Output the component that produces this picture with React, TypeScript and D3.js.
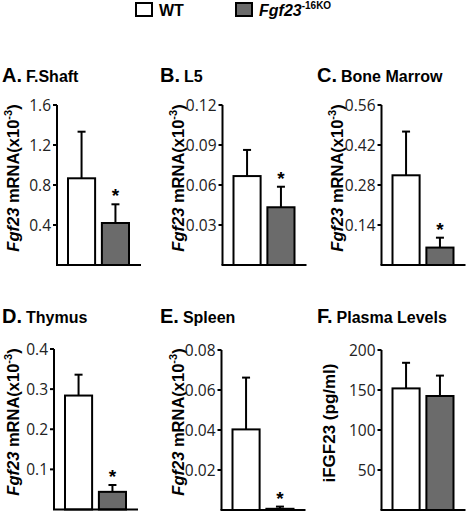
import React from "react";
import * as d3 from "d3";

const groups = ["WT", "KO"];
const panelLetters = ["A.", "B.", "C.", "D.", "E.", "F."];
const panelTitles = ["F.Shaft", "L5", "Bone Marrow", "Thymus", "Spleen", "Plasma Levels"];
const yMax = [1.6, 0.12, 0.56, 0.4, 0.08, 200];
const yTicks = [
  [0.4, 0.8, 1.2, 1.6],
  [0.03, 0.06, 0.09, 0.12],
  [0.14, 0.28, 0.42, 0.56],
  [0.1, 0.2, 0.3, 0.4],
  [0.02, 0.04, 0.06, 0.08],
  [50, 100, 150, 200],
];
const tickLabels = [
  ["0.4", "0.8", "1.2", "1.6"],
  ["0.03", "0.06", "0.09", "0.12"],
  ["0.14", "0.28", "0.42", "0.56"],
  ["0.1", "0.2", "0.3", "0.4"],
  ["0.02", "0.04", "0.06", "0.08"],
  ["50", "100", "150", "200"],
];
const wtMean = [0.867, 0.0667, 0.314, 0.284, 0.0403, 152];
const wtErr = [1.333, 0.0863, 0.467, 0.336, 0.0662, 184];
const koMean = [0.42, 0.0433, 0.061, 0.044, 0.0006, 142.5];
const koErr = [0.607, 0.0587, 0.0956, 0.061, 0.0017, 168];
const significant = [true, true, true, true, true, false];
const isMRNA = [true, true, true, true, true, false];

// layout (positions only)
const layout = [
  { ax: 57, top: 105, base: 265, tx: 2, ty: 82, lx: 19, ly: 178 },
  { ax: 222.5, top: 105, base: 265, tx: 160, ty: 82, lx: 184, ly: 178 },
  { ax: 381.5, top: 105, base: 265, tx: 317, ty: 82, lx: 343, ly: 178 },
  { ax: 54, top: 349, base: 509.5, tx: 2, ty: 323, lx: 19, ly: 422 },
  { ax: 221.5, top: 350, base: 510, tx: 160, ty: 323, lx: 184, ly: 422 },
  { ax: 381.5, top: 350, base: 510, tx: 317, ty: 323, lx: 335, ly: 423 },
];

const KO_FILL = "#6b6b6b";
const FONT = "Liberation Sans, Arial, sans-serif";
const TICK_FONT = "Open Sans, Liberation Sans, sans-serif";

function Panel({ i }: { i: number }) {
  const L = layout[i];
  const y = d3.scaleLinear().domain([0, yMax[i]]).range([L.base, L.top]);
  const x = d3
    .scaleBand<string>()
    .domain(groups)
    .range([L.ax + 11, L.ax + 72])
    .paddingInner(0.2)
    .paddingOuter(0);
  const means = [wtMean[i], koMean[i]];
  const errs = [wtErr[i], koErr[i]];
  const bw = x.bandwidth();
  return (
    <g>
      <text x={L.tx} y={L.ty} fontFamily={FONT} fontWeight="bold" fill="#000">
        <tspan fontSize={20}>{panelLetters[i]}</tspan>
        <tspan fontSize={16} dx={4}>{panelTitles[i]}</tspan>
      </text>
      {isMRNA[i] ? (
        <text
          transform={`translate(${L.lx},${L.ly}) rotate(-90)`}
          textAnchor="middle"
          fontFamily={FONT}
          fontWeight="bold"
          fontSize={16.5}
          fill="#000"
        >
          <tspan fontStyle="italic">Fgf23</tspan>
          <tspan> mRNA(x10</tspan>
          <tspan fontSize={11} dy={-7}>-3</tspan>
          <tspan dy={7}>)</tspan>
        </text>
      ) : (
        <text
          transform={`translate(${L.lx},${L.ly}) rotate(-90)`}
          textAnchor="middle"
          fontFamily={FONT}
          fontWeight="bold"
          fontSize={17}
          fill="#000"
        >
          iFGF23 (pg/ml)
        </text>
      )}
      {yTicks[i].map((t, k) => (
        <g key={k}>
          <line x1={L.ax - 4} x2={L.ax} y1={y(t)} y2={y(t)} stroke="#000" strokeWidth={2} />
          <text
            x={L.ax - 6}
            y={y(t)}
            dy="0.36em"
            textAnchor="end"
            fontFamily={TICK_FONT}
            fontSize={15.5}
            fill="#222"
          >
            {tickLabels[i][k]}
          </text>
        </g>
      ))}
      {groups.map((g, k) => {
        const bx = x(g) as number;
        const cx = bx + bw / 2;
        return (
          <g key={g}>
            <line x1={cx} x2={cx} y1={y(means[k])} y2={y(errs[k])} stroke="#000" strokeWidth={2} />
            <line x1={cx - 4} x2={cx + 4} y1={y(errs[k])} y2={y(errs[k])} stroke="#000" strokeWidth={2} />
            <rect
              x={bx}
              y={y(means[k])}
              width={bw}
              height={L.base - y(means[k])}
              fill={k === 0 ? "#fff" : KO_FILL}
              stroke="#000"
              strokeWidth={2}
            />
            {k === 1 && significant[i] ? (
              <text
                x={cx}
                y={y(errs[k]) - 2}
                textAnchor="middle"
                fontFamily={FONT}
                fontWeight="bold"
                fontSize={19}
                fill="#000"
              >
                *
              </text>
            ) : null}
          </g>
        );
      })}
      <line x1={L.ax} x2={L.ax} y1={L.top} y2={L.base} stroke="#000" strokeWidth={2} />
      <line x1={L.ax - 1} x2={L.ax + 84} y1={L.base} y2={L.base} stroke="#000" strokeWidth={2} />
    </g>
  );
}

export default function App() {
  return (
    <svg
      width={467}
      height={512}
      style={{ position: "absolute", left: 0, top: 0, background: "#fff" }}
    >
      <rect x={0} y={0} width={467} height={512} fill="#fff" />
      <rect x={136} y={3} width={16} height={13} fill="#fff" stroke="#000" strokeWidth={2} />
      <text x={159} y={16} fontFamily={FONT} fontWeight="bold" fontSize={16} fill="#000">
        WT
      </text>
      <rect x={236} y={3} width={16} height={13} fill={KO_FILL} stroke="#000" strokeWidth={2} />
      <text x={259} y={16} fontFamily={FONT} fontWeight="bold" fontSize={16} fill="#000">
        <tspan fontStyle="italic">Fgf23</tspan>
        <tspan fontSize={10} dy={-7}>-16KO</tspan>
      </text>
      {layout.map((_, i) => (
        <Panel key={i} i={i} />
      ))}
    </svg>
  );
}
